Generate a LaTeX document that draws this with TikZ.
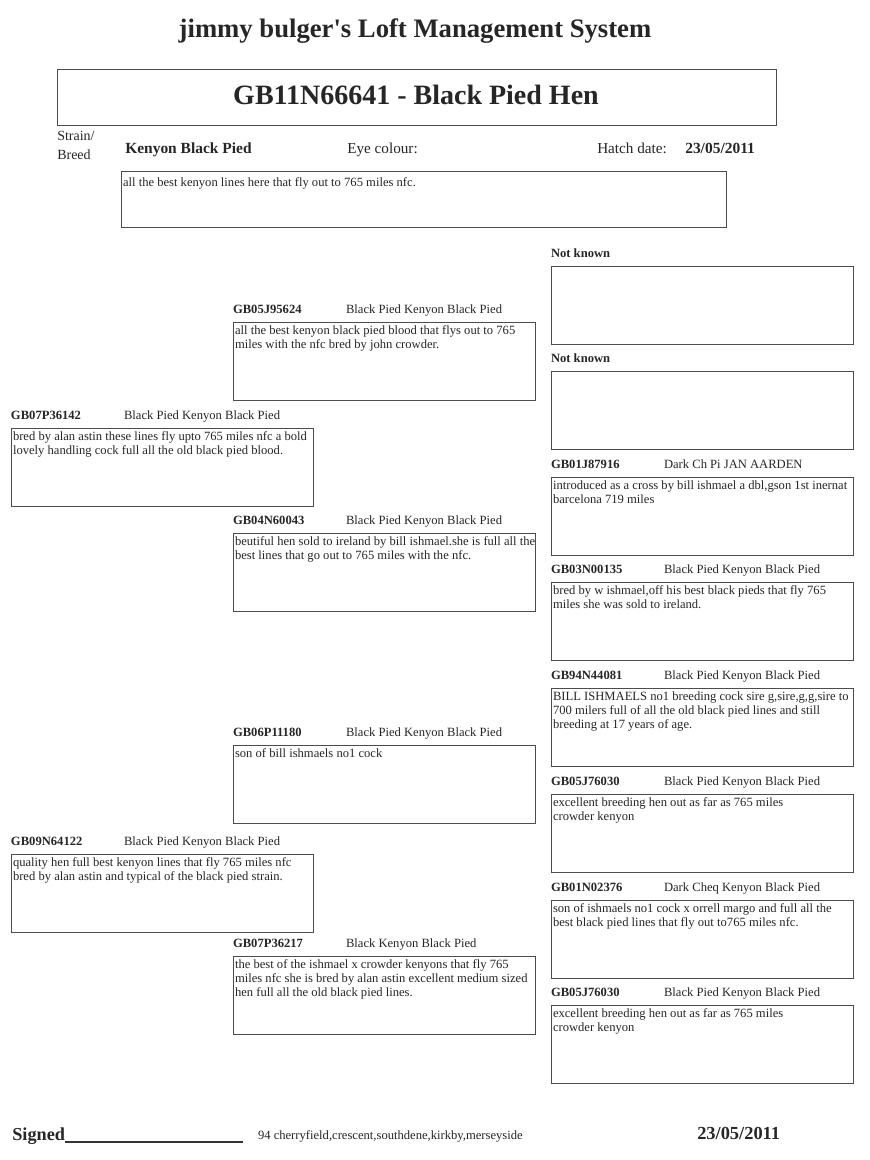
\documentclass[tikz,border=0pt]{standalone}
\usepackage{fontspec}
\setmainfont{Liberation Serif}
\newcommand\mltext[1]{\vtop{\halign{##\hfil\cr#1\crcr}}}
\newcommand\pedentry[6]{%
  \node[pbox] (#1) at (#2,#3) {};
  \node[ringlbl] (#1-ring) at (#2,#3-9) {#4};
  \node[smalltxt] (#1-desc) at (#2+113,#3-9) {#5};
  \node[smalltxt] (#1-text) at (#2+2,#3+12) {\mltext{#6}};
}
\begin{document}
\begin{tikzpicture}[x=0.75pt,y=-0.75pt,
  ink/.style={text=black!85},
  smalltxt/.style={font=\fontsize{9.45}{10.5}\selectfont, inner sep=0, outer sep=0, anchor=base west, ink},
  ringlbl/.style={smalltxt, font=\fontsize{9.45}{10.5}\selectfont\bfseries},
  medtxt/.style={font=\fontsize{11.4}{13}\selectfont, inner sep=0, anchor=base west, ink},
  medbold/.style={medtxt, font=\fontsize{11.6}{13}\selectfont\bfseries},
  frame/.style={draw=black!70, line width=0.75pt, inner sep=0, outer sep=0, anchor=north west},
  pbox/.style={frame, minimum width=226.5pt, minimum height=58.5pt},
]
\useasboundingbox[fill=white] (0,0) rectangle (869,1160);

% header
\node[font=\fontsize{20}{24}\selectfont\bfseries, anchor=base, inner sep=0, ink] (hdr) at (415,37) {jimmy bulger\textquotesingle s Loft Management System};
\node[frame, minimum width=539.25pt, minimum height=42pt] (titlebox) at (57,69) {};
\node[font=\fontsize{21}{25}\selectfont\bfseries, anchor=base, inner sep=0, ink] (title) at (416,104) {GB11N66641 - Black Pied Hen};

\node[medtxt, font=\fontsize{10.5}{12}\selectfont] (strain) at (57,140) {Strain/};
\node[medtxt, font=\fontsize{10.5}{12}\selectfont] (breed) at (57,159) {Breed};
\node[medbold] (strainv) at (125,153) {Kenyon Black Pied};
\node[medtxt] (eye) at (347,153) {Eye colour:};
\node[medtxt] (hatch) at (597,153) {Hatch date:};
\node[medbold] (hatchv) at (685,153) {23/05/2011};

\node[frame, minimum width=453.75pt, minimum height=42pt] (descbox) at (121,171) {};
\node[smalltxt] (desctext) at (123,186) {all the best kenyon lines here that fly out to 765 miles nfc.};

% column 1
\pedentry{s}{11}{428}{GB07P36142}{Black Pied Kenyon Black Pied}{bred by alan astin these lines fly upto 765 miles nfc a bold\cr lovely handling cock full all the old black pied blood.}
\pedentry{d}{11}{854}{GB09N64122}{Black Pied Kenyon Black Pied}{quality hen full best kenyon lines that fly 765 miles nfc\cr bred by alan astin and typical of the black pied strain.}

% column 2
\pedentry{ss}{233}{322}{GB05J95624}{Black Pied Kenyon Black Pied}{all the best kenyon black pied blood that flys out to 765\cr miles with the nfc bred by john crowder.}
\pedentry{sd}{233}{533}{GB04N60043}{Black Pied Kenyon Black Pied}{beutiful hen sold to ireland by bill ishmael.she is full all the\cr best lines that go out to 765 miles with the nfc.}
\pedentry{ds}{233}{745}{GB06P11180}{Black Pied Kenyon Black Pied}{son of bill ishmaels no1 cock}
\pedentry{dd}{233}{956}{GB07P36217}{Black Kenyon Black Pied}{the best of the ishmael x crowder kenyons that fly 765\cr miles nfc she is bred by alan astin excellent medium sized\cr hen full all the old black pied lines.}

% column 3
\pedentry{sss}{551}{266}{Not known}{}{}
\pedentry{ssd}{551}{371}{Not known}{}{}
\pedentry{sds}{551}{477}{GB01J87916}{Dark Ch Pi JAN AARDEN}{introduced as a cross by bill ishmael a dbl,gson 1st inernat\cr barcelona 719 miles}
\pedentry{sdd}{551}{582.5}{GB03N00135}{Black Pied Kenyon Black Pied}{bred by w ishmael,off his best black pieds that fly 765\cr miles she was sold to ireland.}
\pedentry{dss}{551}{688}{GB94N44081}{Black Pied Kenyon Black Pied}{BILL ISHMAELS no1 breeding cock sire g,sire,g,g,sire to\cr 700 milers full of all the old black pied lines and still\cr breeding at 17 years of age.}
\pedentry{dsd}{551}{794}{GB05J76030}{Black Pied Kenyon Black Pied}{excellent breeding hen out as far as 765 miles\cr crowder kenyon}
\pedentry{dds}{551}{900}{GB01N02376}{Dark Cheq Kenyon Black Pied}{son of ishmaels no1 cock x orrell margo and full all the\cr best black pied lines that fly out to765 miles nfc.}
\pedentry{ddd}{551}{1005}{GB05J76030}{Black Pied Kenyon Black Pied}{excellent breeding hen out as far as 765 miles\cr crowder kenyon}

% footer
\node[font=\fontsize{13.7}{16}\selectfont\bfseries, inner sep=0, anchor=base west, ink] (signed) at (12,1140) {Signed};
\coordinate (sigA) at (65,1142);
\coordinate (sigB) at (243,1142);
\draw[black!80, line width=1.1pt] (sigA) -- (sigB);
\node[smalltxt] (addr) at (258,1139) {94 cherryfield,crescent,southdene,kirkby,merseyside};
\node[font=\fontsize{13.8}{16}\selectfont\bfseries, inner sep=0, anchor=base west, ink] (fdate) at (697,1139) {23/05/2011};
\end{tikzpicture}
\end{document}
